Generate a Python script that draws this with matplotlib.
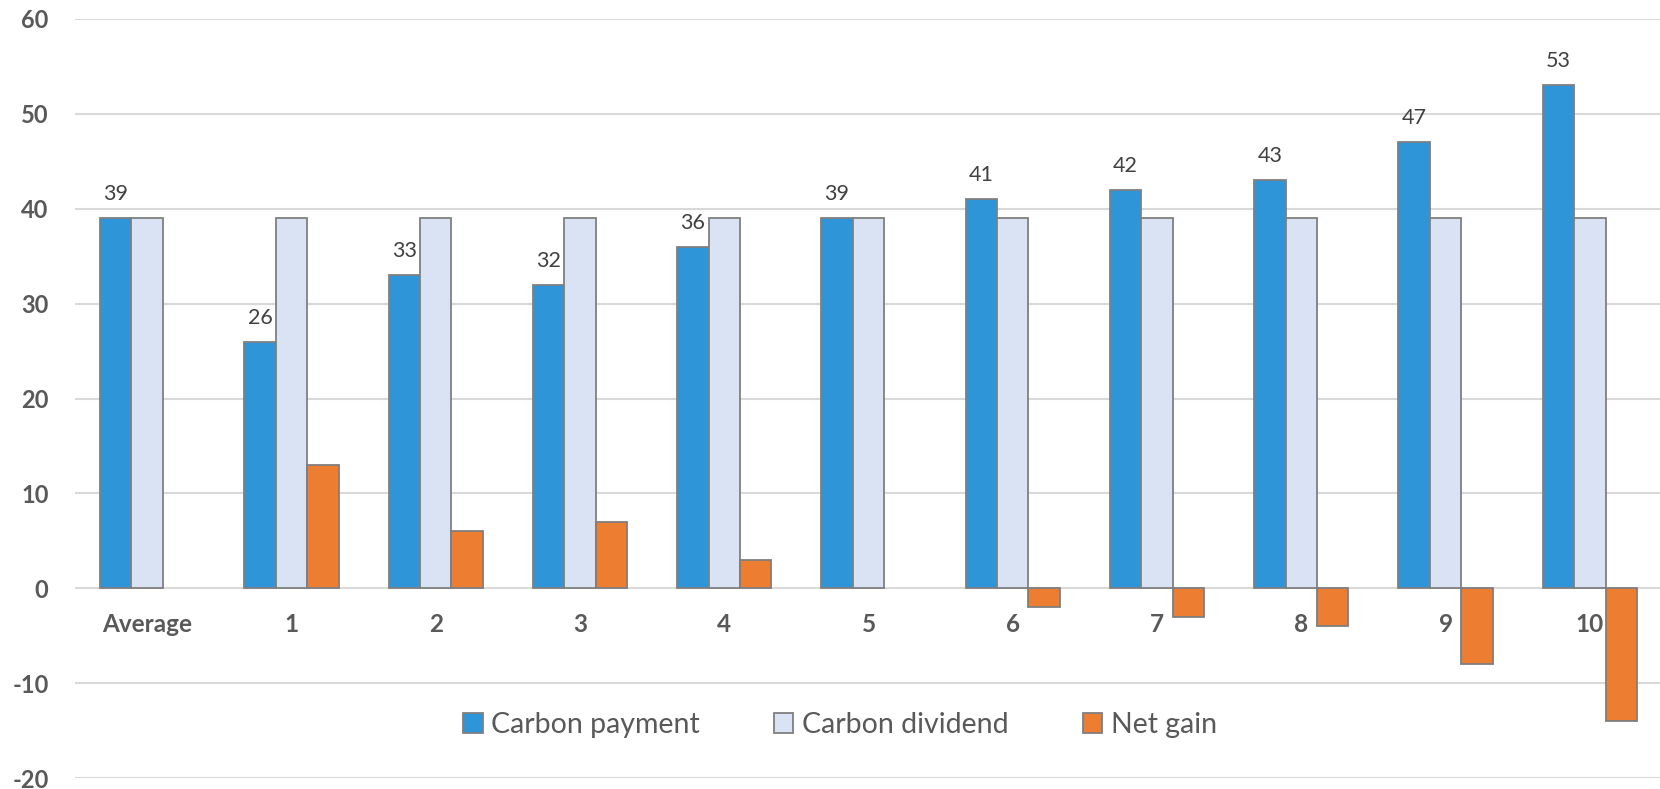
import matplotlib
matplotlib.use("Agg")
import matplotlib.pyplot as plt
import numpy as np

# Chart data
categories = ["Average", "1", "2", "3", "4", "5", "6", "7", "8", "9", "10"]
carbon_payment = [39, 26, 33, 32, 36, 39, 41, 42, 43, 47, 53]
carbon_dividend = [39, 39, 39, 39, 39, 39, 39, 39, 39, 39, 39]
net_gain = [0, 13, 6, 7, 3, 0, -2, -3, -4, -8, -14]
series_names = ["Carbon payment", "Carbon dividend", "Net gain"]
y_ticks = [-20, -10, 0, 10, 20, 30, 40, 50, 60]

colors = ["#2E96D8", "#DAE3F3", "#ED7D31"]
edge = "#7F7F7F"
text_gray = "#595959"
label_gray = "#404040"

plt.rcParams["font.family"] = ["Lato", "DejaVu Sans"]

W, H, DPI = 1660, 789, 100
fig = plt.figure(figsize=(W / DPI, H / DPI), dpi=DPI)
left_px, right_px, top_px, bottom_px = 75, 1662, 19, 778
ax = fig.add_axes([left_px / W, 1 - bottom_px / H,
                   (right_px - left_px) / W, (bottom_px - top_px) / H])

x = np.arange(len(categories))
bw = 0.218
all_series = [carbon_payment, carbon_dividend, net_gain]
handles = []
for k, (vals, col, name) in enumerate(zip(all_series, colors, series_names)):
    # zero-height bars get no outline so they don't show up as a line
    lws = [1.3 if v != 0 else 0 for v in vals]
    bars = ax.bar(x + (k - 1) * bw, vals, width=bw, color=col,
                  edgecolor=edge, linewidth=lws, label=name, zorder=3)
    handles.append(bars)

# Value labels on the carbon payment bars
for xi, v in zip(x - bw, carbon_payment):
    ax.annotate(f"{v}", xy=(xi, v), xytext=(0, 18), textcoords="offset pixels",
                ha="center", va="baseline", fontsize=15.5, color=label_gray)

# Category labels sitting just below the zero line
for xi, c in zip(x, categories):
    ax.annotate(c, xy=(xi, 0), xytext=(0, -36), textcoords="offset pixels",
                ha="center", va="center", fontsize=17.5, fontweight="bold",
                color=text_gray)

ax.set_xlim(-0.5, len(categories) - 0.5)
ax.set_ylim(-20, 60)
ax.set_yticks(y_ticks)
ax.set_yticklabels([str(t) for t in y_ticks], fontsize=17, fontweight="bold",
                   color=text_gray)
ax.set_xticks([])
ax.tick_params(axis="y", length=0, pad=19)
ax.grid(axis="y", color="#D9D9D9", linewidth=1.5, zorder=0)
for s in ax.spines.values():
    s.set_visible(False)

# Legend handles with a uniform outline
from matplotlib.patches import Patch
leg_handles = [Patch(facecolor=c, edgecolor=edge, linewidth=1.3) for c in colors]
leg = fig.legend(handles=leg_handles, labels=series_names, loc="center",
                 bbox_to_anchor=(840 / W, 1 - 725 / H), ncol=3, frameon=False,
                 fontsize=20.5, handlelength=0.68, handleheight=0.68,
                 handletextpad=0.3, columnspacing=2.6, labelcolor=text_gray)

fig.savefig("out.png", dpi=DPI)
